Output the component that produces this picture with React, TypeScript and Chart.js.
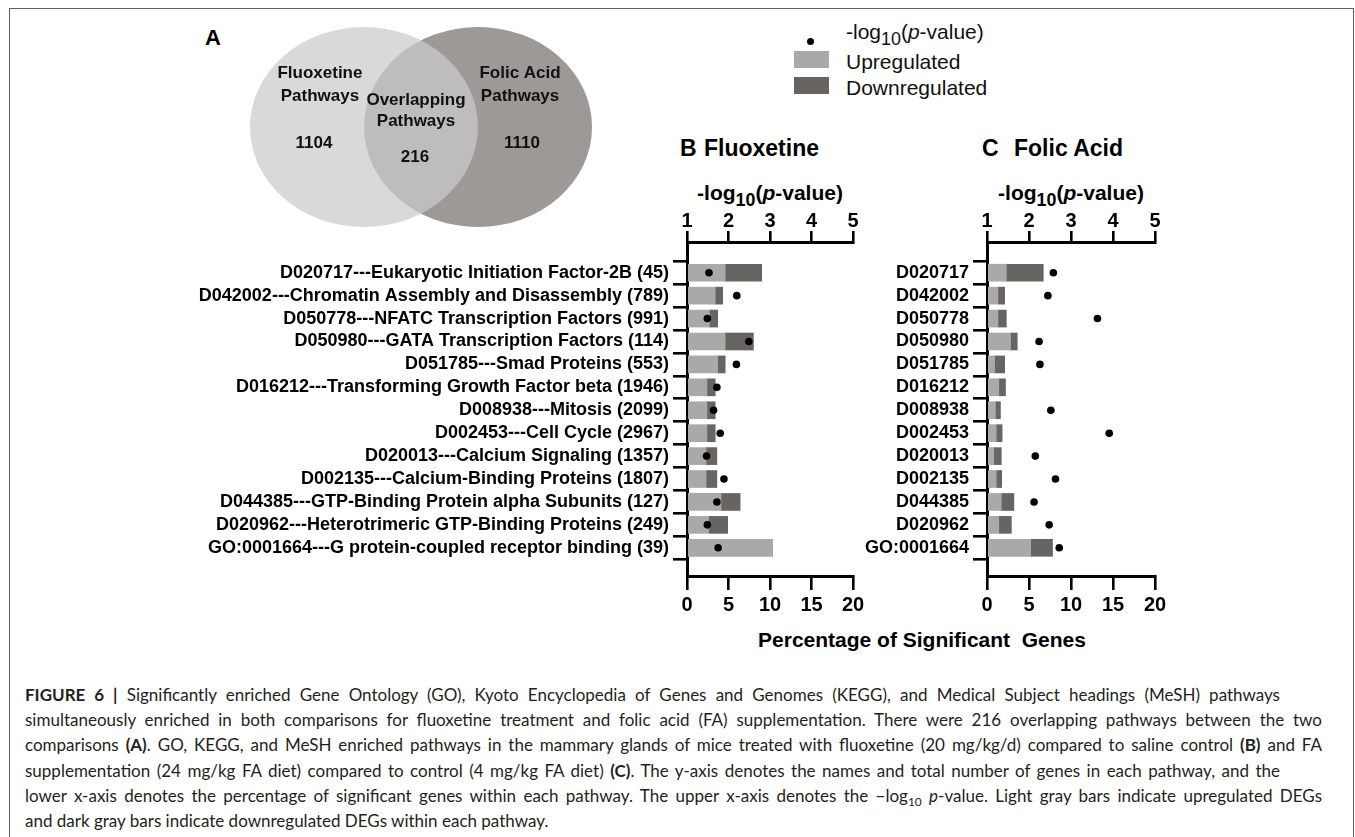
import React, { useEffect, useLayoutEffect, useRef } from 'react';
import { Chart, registerables } from 'chart.js';

Chart.register(...registerables);

// ---------------- data ----------------
const pathwayNames = [
  'D020717---Eukaryotic Initiation Factor-2B (45)',
  'D042002---Chromatin Assembly and Disassembly (789)',
  'D050778---NFATC Transcription Factors (991)',
  'D050980---GATA Transcription Factors (114)',
  'D051785---Smad Proteins (553)',
  'D016212---Transforming Growth Factor beta (1946)',
  'D008938---Mitosis (2099)',
  'D002453---Cell Cycle (2967)',
  'D020013---Calcium Signaling (1357)',
  'D002135---Calcium-Binding Proteins (1807)',
  'D044385---GTP-Binding Protein alpha Subunits (127)',
  'D020962---Heterotrimeric GTP-Binding Proteins (249)',
  'GO:0001664---G protein-coupled receptor binding (39)',
];
const pathwayIds = [
  'D020717', 'D042002', 'D050778', 'D050980', 'D051785', 'D016212', 'D008938',
  'D002453', 'D020013', 'D002135', 'D044385', 'D020962', 'GO:0001664',
];

// Fluoxetine (B): % significant genes up / down, and -log10(p)
const fluoxetineUp = [4.6, 3.4, 2.7, 4.6, 3.7, 2.4, 2.4, 2.4, 2.3, 2.3, 4.1, 2.6, 10.3];
const fluoxetineDown = [4.4, 0.9, 1.0, 3.4, 0.9, 1.0, 1.0, 1.0, 1.3, 1.3, 2.3, 2.3, 0];
const fluoxetineLogP = [1.53, 2.2, 1.49, 2.49, 2.19, 1.72, 1.64, 1.8, 1.47, 1.89, 1.72, 1.49, 1.75];

// Folic acid (C)
const folicUp = [2.3, 1.3, 1.3, 2.8, 0.9, 1.4, 1.0, 1.1, 0.8, 1.1, 1.7, 1.4, 5.2];
const folicDown = [4.4, 0.8, 1.0, 0.8, 1.2, 0.8, 0.6, 0.7, 0.9, 0.65, 1.5, 1.5, 2.6];
const folicLogP = [2.58, 2.45, 3.63, 2.24, 2.26, null, 2.52, 3.91, 2.15, 2.63, 2.12, 2.48, 2.72];

const percentTicks = [0, 5, 10, 15, 20];
const logPTicks = [1, 2, 3, 4, 5];

// Venn (A)
const vennSetNames = ['Fluoxetine', 'Folic Acid'];
const vennUnique = [1104, 1110];
const vennOverlap = 216;

// ---------------- styles ----------------
const ARIAL = '"Liberation Sans", Arial, Helvetica, sans-serif';
const LIGHT = '#a9a9a9';
const DARK = '#686462';
const VENN_FILL = ['rgba(202,202,202,0.72)', 'rgb(157,153,151)'];

function makeBarChart(
  canvas: HTMLCanvasElement,
  labels: string[],
  up: number[],
  down: number[],
  logp: (number | null)[],
  yWidth: number,
  rightPad: number,
) {
  const idx = labels.map((_, i) => i);
  const tickFont = { family: ARIAL, size: 20, weight: 'bold' };
  return new Chart(canvas, {
    type: 'bar',
    data: {
      datasets: [
        {
          type: 'scatter',
          label: '-log10(p-value)',
          data: idx.map((i) => ({ x: logp[i] === null ? NaN : (logp[i] as number), y: i })),
          xAxisID: 'x2',
          yAxisID: 'y',
          backgroundColor: '#000',
          borderColor: '#000',
          borderWidth: 0,
          pointRadius: 3.8,
          order: 0,
          clip: false,
        } as any,
        {
          type: 'bar',
          label: 'Upregulated',
          data: idx.map((i) => ({ x: up[i], y: i })),
          xAxisID: 'x',
          yAxisID: 'y',
          backgroundColor: LIGHT,
          barThickness: 17,
          stack: 's',
          order: 1,
        } as any,
        {
          type: 'bar',
          label: 'Downregulated',
          data: idx.map((i) => ({ x: down[i], y: i })),
          xAxisID: 'x',
          yAxisID: 'y',
          backgroundColor: DARK,
          barThickness: 17,
          stack: 's',
          order: 2,
        } as any,
      ],
    },
    options: {
      indexAxis: 'y',
      responsive: false,
      maintainAspectRatio: false,
      animation: false,
      layout: { padding: { left: 0, right: rightPad, top: 0, bottom: 0 } },
      plugins: { legend: { display: false }, tooltip: { enabled: false } },
      scales: {
        x: {
          type: 'linear',
          position: 'bottom',
          min: 0,
          max: 20,
          stacked: true,
          afterBuildTicks: (s: any) => {
            s.ticks = percentTicks.map((v) => ({ value: v }));
          },
          afterFit: (s: any) => {
            s.height = 44;
          },
          grid: { drawOnChartArea: false, color: '#000', lineWidth: 2.6, tickLength: 14 },
          border: { display: true, color: '#000', width: 3 },
          ticks: { color: '#000', padding: 3, maxRotation: 0, autoSkip: false, font: tickFont },
        },
        x2: {
          type: 'linear',
          position: 'top',
          min: 1,
          max: 5,
          afterBuildTicks: (s: any) => {
            s.ticks = logPTicks.map((v) => ({ value: v }));
          },
          afterFit: (s: any) => {
            s.height = 42;
          },
          grid: { drawOnChartArea: false, color: '#000', lineWidth: 2.6, tickLength: 11 },
          border: { display: true, color: '#000', width: 3 },
          ticks: { color: '#000', padding: -2, maxRotation: 0, autoSkip: false, font: tickFont },
        },
        y: {
          type: 'linear',
          reverse: true,
          min: -0.78,
          max: 12.67,
          stacked: true,
          afterBuildTicks: (s: any) => {
            s.ticks = idx.map((i) => ({ value: i }));
          },
          afterFit: (s: any) => {
            s.width = yWidth;
          },
          grid: { drawOnChartArea: false, color: '#000', lineWidth: 2.6, tickLength: 14 },
          border: { display: true, color: '#000', width: 3 },
          ticks: {
            color: '#000',
            padding: 4,
            autoSkip: false,
            callback: (v: any) => labels[v as number] ?? '',
            font: { family: ARIAL, size: 18, weight: 'bold' },
          },
        },
      },
    } as any,
  });
}

const RX = 114;
const RY = 100;

const vennPlugin = {
  id: 'vennEllipses',
  beforeDatasetsDraw(chart: any) {
    const ctx = chart.ctx as CanvasRenderingContext2D;
    const pts = chart.data.datasets.map((_: any, i: number) => chart.getDatasetMeta(i).data[0]);
    const L = pts[0];
    const R = pts[1];
    ctx.save();
    [1, 0].forEach((i) => {
      ctx.fillStyle = VENN_FILL[i];
      ctx.beginPath();
      ctx.ellipse(pts[i].x, pts[i].y, RX, RY, 0, 0, Math.PI * 2);
      ctx.fill();
    });
    const M = (L.x + R.x) / 2;
    const yc = L.y;
    ctx.fillStyle = '#111';
    ctx.font = `bold 17px ${ARIAL}`;
    ctx.textAlign = 'center';
    ctx.textBaseline = 'middle';
    const t = (s: string, x: number, y: number) => ctx.fillText(s, x, y);
    t(vennSetNames[0], L.x - 44, yc - 54);
    t('Pathways', L.x - 44, yc - 31);
    t(String(vennUnique[0]), L.x - 50, yc + 16);
    t('Overlapping', M - 5, yc - 27);
    t('Pathways', M - 5, yc - 6);
    t(String(vennOverlap), M - 6, yc + 30);
    t(vennSetNames[1], R.x + 42, yc - 54);
    t('Pathways', R.x + 42, yc - 31);
    t(String(vennUnique[1]), R.x + 44, yc + 16);
    ctx.restore();
  },
};

function makeVenn(canvas: HTMLCanvasElement) {
  return new Chart(canvas, {
    type: 'scatter',
    data: {
      datasets: vennSetNames.map((name, i) => ({
        label: name,
        data: [{ x: i, y: 0 }],
        pointRadius: 0,
        order: i,
        clip: false,
      })) as any,
    },
    options: {
      responsive: false,
      maintainAspectRatio: false,
      animation: false,
      layout: { padding: 0 },
      plugins: { legend: { display: false }, tooltip: { enabled: false } },
      scales: {
        x: { type: 'linear', display: false, min: -1.2, max: 2.2 },
        y: { type: 'linear', display: false, min: -1, max: 1 },
      },
    } as any,
    plugins: [vennPlugin],
  });
}

const abs = (l: number, t: number, extra: React.CSSProperties = {}): React.CSSProperties => ({
  position: 'absolute',
  left: l,
  top: t,
  whiteSpace: 'pre',
  ...extra,
});

function LogP() {
  return (
    <span>
      -log<sub style={{ fontSize: '0.85em', verticalAlign: '-0.35em', lineHeight: 0 }}>10</sub>(
      <i>p</i>-value)
    </span>
  );
}

function CapLine({ width, children }: { width?: number; children: React.ReactNode }) {
  const ref = useRef<HTMLSpanElement>(null);
  useLayoutEffect(() => {
    const el = ref.current;
    if (!el || !width) return;
    el.style.wordSpacing = '0px';
    const w = el.getBoundingClientRect().width;
    const spaces = (el.textContent || '').split(' ').length - 1;
    if (spaces > 0) el.style.wordSpacing = `${(width - w) / spaces}px`;
  }, [width]);
  return (
    <div style={{ height: 25.2, lineHeight: '25.2px', whiteSpace: 'nowrap' }}>
      <span ref={ref}>{children}</span>
    </div>
  );
}

export default function App() {
  const bRef = useRef<HTMLCanvasElement>(null);
  const cRef = useRef<HTMLCanvasElement>(null);
  const vRef = useRef<HTMLCanvasElement>(null);

  useEffect(() => {
    const charts = [
      makeBarChart(bRef.current!, pathwayNames, fluoxetineUp, fluoxetineDown, fluoxetineLogP, 537, 17),
      makeBarChart(cRef.current!, pathwayIds, folicUp, folicDown, folicLogP, 147, 20),
      makeVenn(vRef.current!),
    ];
    return () => charts.forEach((c) => c.destroy());
  }, []);

  const legendText: React.CSSProperties = { fontSize: 21, lineHeight: '24px', color: '#111' };
  const titleText: React.CSSProperties = { fontSize: 23, fontWeight: 'bold', lineHeight: '26px' };
  const axisTitle: React.CSSProperties = {
    fontSize: 21,
    fontWeight: 'bold',
    lineHeight: '24px',
    transform: 'translateX(-50%)',
  };

  return (
    <div
      style={{
        position: 'absolute',
        left: 0,
        top: 0,
        width: 1355,
        height: 837,
        overflow: 'hidden',
        background: '#fff',
        fontFamily: ARIAL,
      }}
    >
      {/* frame */}
      <div
        style={{
          position: 'absolute',
          left: 9,
          top: 8,
          width: 1343,
          height: 900,
          border: '1.5px solid #5e5e5e',
        }}
      />

      {/* Panel A: Venn */}
      <div style={abs(205, 26, { fontSize: 22, fontWeight: 'bold', lineHeight: '24px' })}>A</div>
      <canvas ref={vRef} width={388} height={220} style={{ position: 'absolute', left: 227, top: 17 }} />

      {/* Legend */}
      <div
        style={{
          position: 'absolute',
          left: 807,
          top: 38,
          width: 6.5,
          height: 6.5,
          borderRadius: 4,
          background: '#000',
        }}
      />
      <div style={{ position: 'absolute', left: 794, top: 51, width: 35, height: 17, background: LIGHT }} />
      <div style={{ position: 'absolute', left: 794, top: 77, width: 35, height: 17, background: DARK }} />
      <div style={abs(846, 20, legendText)}>
        <LogP />
      </div>
      <div style={abs(846, 50, legendText)}>Upregulated</div>
      <div style={abs(846, 76, legendText)}>Downregulated</div>

      {/* Panel titles */}
      <div style={abs(680, 135, titleText)}>B</div>
      <div style={abs(704, 135, titleText)}>Fluoxetine</div>
      <div style={abs(982, 135, titleText)}>C</div>
      <div style={abs(1014, 135, titleText)}>Folic Acid</div>

      {/* top axis titles */}
      <div style={abs(770, 181, axisTitle)}>
        <LogP />
      </div>
      <div style={abs(1071, 181, axisTitle)}>
        <LogP />
      </div>

      {/* charts */}
      <canvas ref={bRef} width={720} height={420} style={{ position: 'absolute', left: 150, top: 200 }} />
      <canvas ref={cRef} width={335} height={420} style={{ position: 'absolute', left: 840, top: 200 }} />

      {/* bottom axis title */}
      <div style={abs(922, 627, { ...axisTitle, lineHeight: '26px' })}>{'Percentage of Significant  Genes'}</div>

      {/* caption */}
      <div
        style={{
          position: 'absolute',
          left: 25,
          top: 682,
          fontFamily: 'Lato, "Open Sans", sans-serif',
          fontSize: 17,
          color: '#231f20',
        }}
      >
        <CapLine width={1255}>
          <b>FIGURE 6 |</b> Significantly enriched Gene Ontology (GO), Kyoto Encyclopedia of Genes and Genomes
          (KEGG), and Medical Subject headings (MeSH) pathways
        </CapLine>
        <CapLine width={1297}>
          simultaneously enriched in both comparisons for fluoxetine treatment and folic acid (FA) supplementation.
          There were 216 overlapping pathways between the two
        </CapLine>
        <CapLine width={1297}>
          comparisons <b>(A)</b>. GO, KEGG, and MeSH enriched pathways in the mammary glands of mice treated with
          fluoxetine (20 mg/kg/d) compared to saline control <b>(B)</b> and FA
        </CapLine>
        <CapLine width={1255}>
          supplementation (24 mg/kg FA diet) compared to control (4 mg/kg FA diet) <b>(C)</b>. The y-axis denotes the
          names and total number of genes in each pathway, and the
        </CapLine>
        <CapLine width={1297}>
          lower x-axis denotes the percentage of significant genes within each pathway. The upper x-axis denotes the
          −log<sub style={{ fontSize: '0.7em', lineHeight: 0 }}>10</sub> <i>p</i>-value. Light gray bars indicate
          upregulated DEGs
        </CapLine>
        <CapLine>and dark gray bars indicate downregulated DEGs within each pathway.</CapLine>
      </div>
    </div>
  );
}
